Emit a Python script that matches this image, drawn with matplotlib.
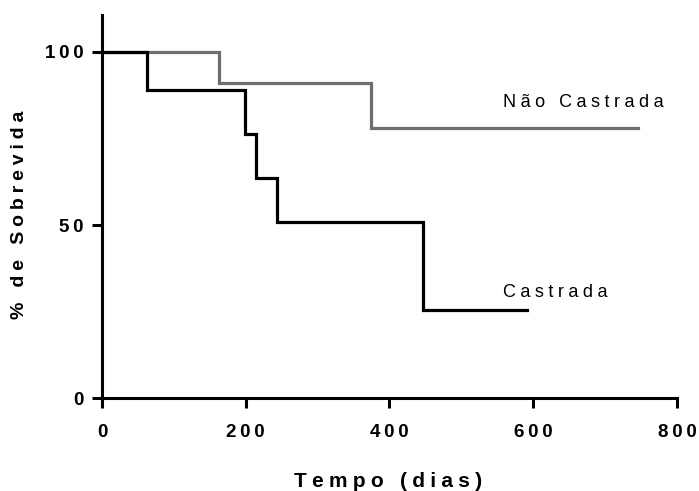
import matplotlib.pyplot as plt

plt.rcParams['font.family'] = ['Liberation Sans', 'DejaVu Sans']

# Kaplan-Meier survival curves (days, % survival)
castrada_t = [0, 62, 199, 214, 244, 447, 591]
castrada_s = [100, 88.9, 76.2, 63.5, 50.8, 25.4, 25.4]
nao_t = [0, 163, 374, 746]
nao_s = [100, 90.9, 77.9, 77.9]

x_ticks = [0, 200, 400, 600, 800]
y_ticks = [0, 50, 100]


def spaced(s, sep='\u2005'):
    # imitate the wide letter spacing of the original
    return sep.join(s)


fig = plt.figure(figsize=(6.99, 4.91), dpi=100)
ax = fig.add_axes([0.1459, 0.1884, 0.8226, 0.781])

ax.step(nao_t, nao_s, where='post', color='#6e6e6e', lw=2.3, solid_joinstyle='miter')
ax.step(castrada_t, castrada_s, where='post', color='black', lw=2.3, solid_joinstyle='miter')

ax.set_xlim(0, 800)
ax.set_ylim(0, 110.6)
ax.set_xticks(x_ticks)
ax.set_yticks(y_ticks)
ax.set_xticklabels([spaced(str(v), '\u2009') for v in x_ticks], fontsize=13.5, fontweight='bold')
ax.set_yticklabels([spaced(str(v), '\u2009') for v in y_ticks], fontsize=13.5, fontweight='bold')
ax.tick_params(axis='both', width=2.2, length=7, color='black')
ax.tick_params(axis='x', pad=11.5)
ax.tick_params(axis='y', pad=6.5)

for side in ['top', 'right']:
    ax.spines[side].set_visible(False)
for side in ['left', 'bottom']:
    ax.spines[side].set_linewidth(2.2)

fig.text(388 / 699, 4 / 491, spaced('Tempo (dias)'), fontsize=15, fontweight='bold',
         ha='center', va='baseline')
fig.text(20 / 699, 1 - 215 / 491, spaced('% de Sobrevida'), fontsize=14, fontweight='bold',
         ha='center', va='center', rotation=90)

ax.text(558, 84.05, spaced('Não Castrada'), fontsize=13, va='baseline', ha='left')
ax.text(558, 29.35, spaced('Castrada'), fontsize=13, va='baseline', ha='left')

plt.savefig('out.png', dpi=100)
